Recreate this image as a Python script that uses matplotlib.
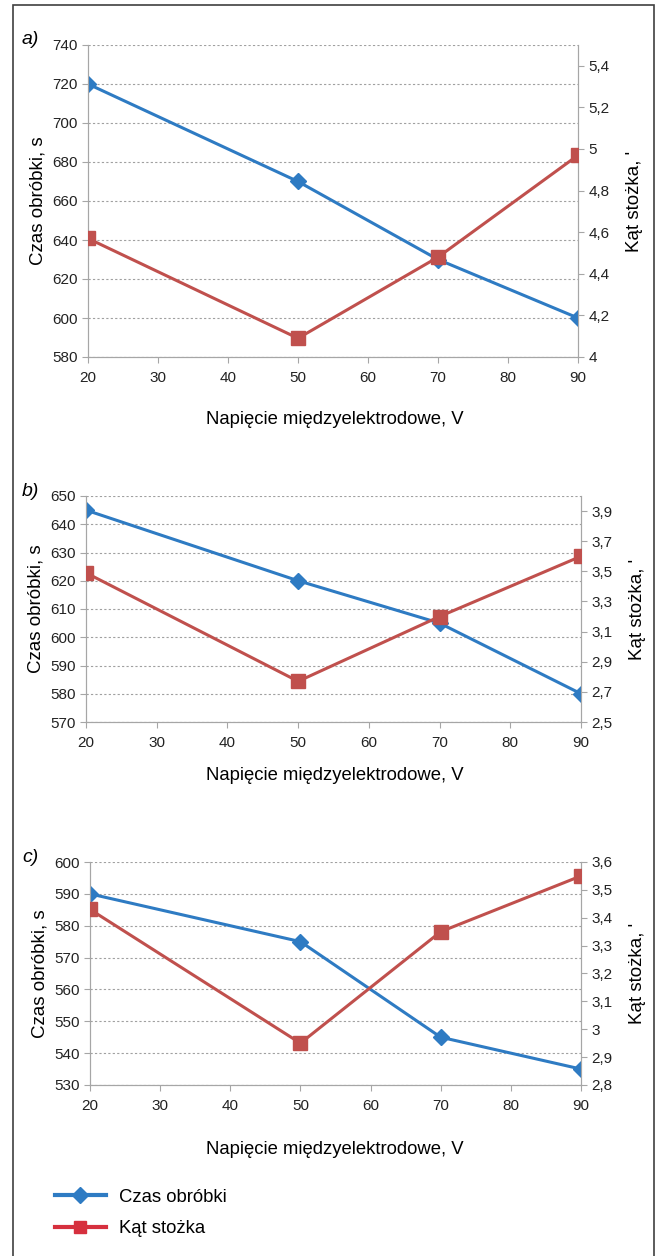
import matplotlib.pyplot as plt
from matplotlib.lines import Line2D
from matplotlib.patches import Rectangle
from matplotlib.ticker import FuncFormatter

# Dane
napiecie = [20, 50, 70, 90]

czas_a = [720, 670, 630, 600]
kat_a = [4.57, 4.09, 4.48, 4.97]

czas_b = [645, 620, 605, 580]
kat_b = [3.49, 2.77, 3.20, 3.60]

czas_c = [590, 575, 545, 535]
kat_c = [3.43, 2.95, 3.35, 3.55]

litery = ['a)', 'b)', 'c)']

NIEBIESKI = '#2E7BC3'
CZERWONY = '#C0504D'
SZARY = '#A6A6A6'

W, H = 656, 1256
fig = plt.figure(figsize=(W / 100, H / 100), dpi=100)
plt.rcParams['font.family'] = ['Liberation Sans', 'DejaVu Sans']

# ramka wokol calego rysunku
fig.patches.append(Rectangle((13 / W, -0.01), (654 - 13) / W, 1 - 5 / H + 0.01,
                             transform=fig.transFigure, fill=False,
                             edgecolor='#404040', linewidth=1.2))


def przecinek(v, pos):
    s = ('%.1f' % v).rstrip('0').rstrip('.')
    return s.replace('.', ',')


# (lewo, prawo, gora, dol) w pikselach; zakresy osi
panele = [
    dict(box=(88, 578, 45, 357), czas=czas_a, kat=kat_a,
         ylim=(580, 740), yt=range(580, 741, 20),
         y2lim=(4, 5.5), y2t=[4, 4.2, 4.4, 4.6, 4.8, 5, 5.2, 5.4], xl=420),
    dict(box=(86, 581, 496, 722), czas=czas_b, kat=kat_b,
         ylim=(570, 650), yt=range(570, 651, 10),
         y2lim=(2.5, 4.0), y2t=[2.5, 2.7, 2.9, 3.1, 3.3, 3.5, 3.7, 3.9], xl=775),
    dict(box=(90, 581, 862, 1085), czas=czas_c, kat=kat_c,
         ylim=(530, 600), yt=range(530, 601, 10),
         y2lim=(2.8, 3.6), y2t=[2.8, 2.9, 3, 3.1, 3.2, 3.3, 3.4, 3.5, 3.6], xl=1150),
]

for p, lit in zip(panele, litery):
    l, r, t, b = p['box']
    ax = fig.add_axes([l / W, 1 - b / H, (r - l) / W, (b - t) / H])
    ax2 = ax.twinx()

    ax.plot(napiecie, p['czas'], color=NIEBIESKI, lw=2.2, marker='D',
            markersize=8, zorder=3)
    ax2.plot(napiecie, p['kat'], color=CZERWONY, lw=2.2, marker='s',
             markersize=10, zorder=3)

    ax.set_xlim(20, 90)
    ax.set_xticks(range(20, 91, 10))
    ax.set_ylim(*p['ylim'])
    ax.set_yticks(list(p['yt']))
    ax2.set_ylim(*p['y2lim'])
    ax2.set_yticks(p['y2t'])
    ax2.yaxis.set_major_formatter(FuncFormatter(przecinek))

    ax.grid(axis='y', color='#A0A0A0', linestyle=(0, (2, 2)), linewidth=0.8)
    ax.set_axisbelow(True)

    for a in (ax, ax2):
        a.spines['top'].set_visible(False)
        for s in ('left', 'right', 'bottom'):
            a.spines[s].set_color(SZARY)
        a.tick_params(colors=SZARY, labelcolor='#222222', labelsize=11,
                      length=4, width=0.8)
    ax.tick_params(axis='x', pad=6)

    ax.set_ylabel('Czas obróbki, s', fontsize=13.5, labelpad=4)
    ax2.set_ylabel("Kąt stożka, '", fontsize=13.5, labelpad=12)
    fig.text(335 / W, 1 - p['xl'] / H, 'Napięcie międzyelektrodowe, V',
             ha='center', va='center', fontsize=13.3)
    fig.text(22 / W, 1 - (t - 5) / H, lit, ha='left', va='center',
             fontsize=14, style='italic')

uchwyty = [
    Line2D([], [], color=NIEBIESKI, lw=3, marker='D', markersize=8),
    Line2D([], [], color='#D6303E', lw=3, marker='s', markersize=8),
]
fig.legend(uchwyty, ['Czas obróbki', 'Kąt stożka'], loc='upper left',
           bbox_to_anchor=(38 / W, 1 - 1172 / H), frameon=False,
           fontsize=13.3, handlelength=2.8, handletextpad=0.7,
           labelspacing=0.8)

fig.savefig('out.png', dpi=100)
